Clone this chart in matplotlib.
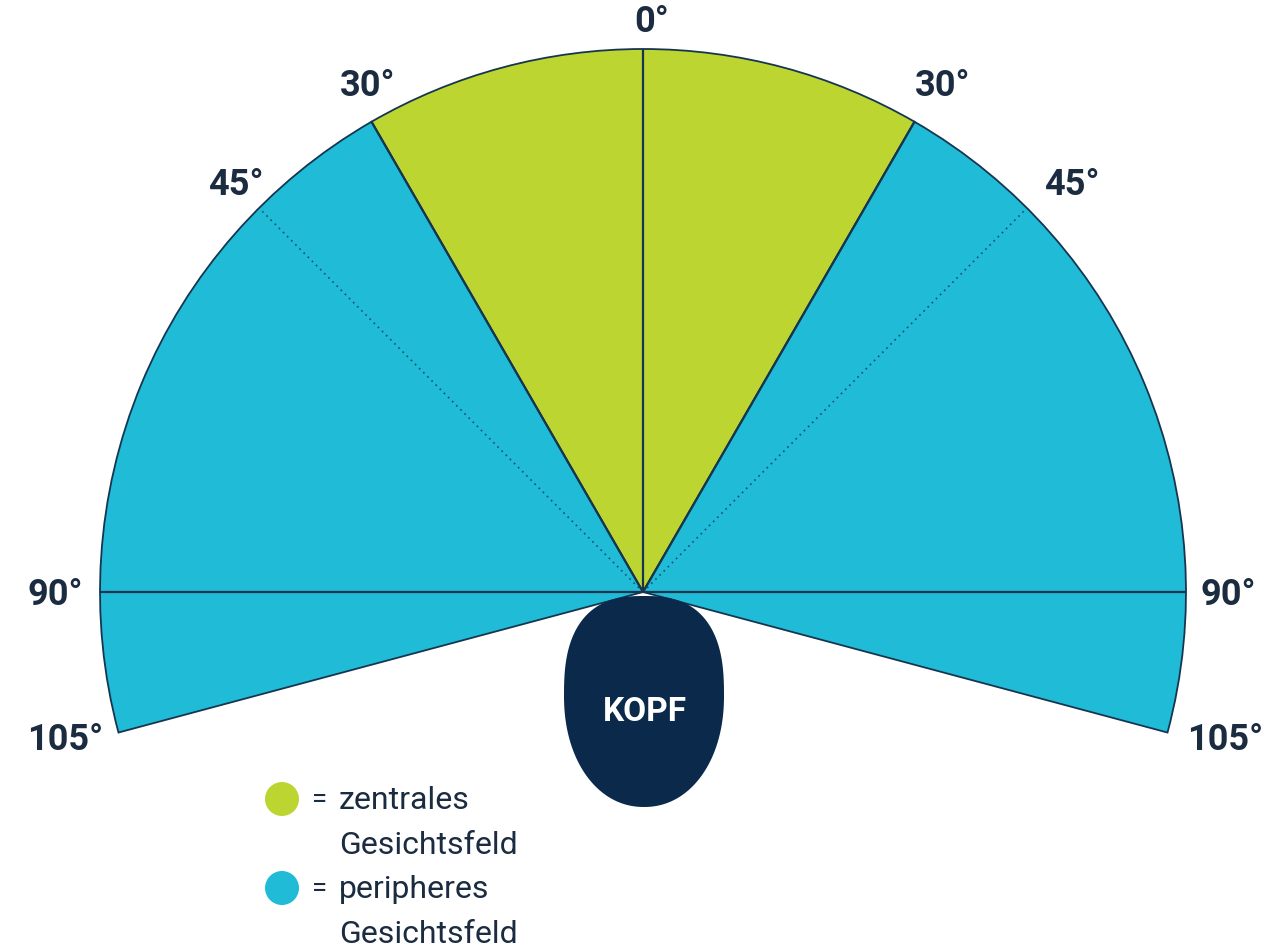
import numpy as np
import matplotlib.pyplot as plt
from matplotlib.patches import Wedge, Circle, Polygon

plt.rcParams['font.family'] = ['Roboto', 'DejaVu Sans']

# sectors: (start angle, end angle) measured from straight ahead, clockwise positive
sector_names = ["zentral", "peripher rechts", "peripher links"]
sector_from = [-30, 30, -105]
sector_to = [30, 105, -30]
sector_colors = ["#bdd531", "#1fbbd7", "#1fbbd7"]

solid_angles = [0, -30, 30, -90, 90]
dotted_angles = [-45, 45]
label_texts = ["0°", "30°", "30°", "45°", "45°", "90°", "90°", "105°", "105°"]

legend_labels = [["zentrales", "Gesichtsfeld"], ["peripheres", "Gesichtsfeld"]]
legend_colors = ["#bdd531", "#1fbbd7"]

W, H = 1267, 953
cx, cy = 643, H - 593
R = 543
line_col = "#163650"
text_col = "#1b2b40"


def to_math(a):
    return 90 - a


fig = plt.figure(figsize=(W / 100, H / 100), dpi=100)
ax = fig.add_axes([0, 0, 1, 1])
ax.set_xlim(0, W)
ax.set_ylim(0, H)
ax.set_aspect('equal')
ax.axis('off')

for a0, a1, col in zip(sector_from, sector_to, sector_colors):
    ax.add_patch(Wedge((cx, cy), R, to_math(a1), to_math(a0), facecolor=col,
                       edgecolor=line_col, lw=1.3, zorder=1))

for a in solid_angles:
    t = np.radians(to_math(a))
    ax.plot([cx, cx + R * np.cos(t)], [cy, cy + R * np.sin(t)], color=line_col,
            lw=1.6, zorder=2, solid_capstyle='butt')
for a in dotted_angles:
    t = np.radians(to_math(a))
    ax.plot([cx, cx + (R - 4) * np.cos(t)], [cy, cy + (R - 4) * np.sin(t)],
            color=line_col, lw=1.2, ls=(0, (1, 2.5)), zorder=2, alpha=0.8)

# label positions (pixels)
label_px = [(652, 22), (368, 86), (943, 86), (236, 185), (1072, 185),
            (55, 595), (1228, 595), (65, 740), (1225, 740)]
for (lx, ly), txt in zip(label_px, label_texts):
    ax.text(lx, H - ly, txt, ha='center', va='center', fontsize=26,
            fontweight='bold', color=text_col)

# head: egg shape, flatter on top, rounder below
s = np.linspace(0, 2 * np.pi, 400)
top = np.sin(s) > 0
n = np.where(top, 2.6, 2.1)
b = np.where(top, 100, 111)
hx = 644 + 80 * np.sign(np.cos(s)) * np.abs(np.cos(s)) ** (2 / n)
hy = (H - 697) + b * np.sign(np.sin(s)) * np.abs(np.sin(s)) ** (2 / n)
ax.add_patch(Polygon(np.column_stack([hx, hy]), closed=True, facecolor="#0b2a4b",
                     edgecolor='none', zorder=3))
ax.text(645, H - 712, "KOPF", ha='center', va='center', fontsize=24,
        fontweight='bold', color='white', zorder=4)

# legend
for i, (lines, col) in enumerate(zip(legend_labels, legend_colors)):
    y = H - (800 + i * 89)
    ax.add_patch(Circle((282, y), 17, facecolor=col, edgecolor='none'))
    ax.text(312, y, "=", ha='left', va='center', fontsize=20, color=text_col)
    ax.text(339, y + 14, lines[0], ha='left', va='top', fontsize=23, color=text_col)
    ax.text(339, y - 31, lines[1], ha='left', va='top', fontsize=23, color=text_col)

fig.savefig("out.png", dpi=100)
